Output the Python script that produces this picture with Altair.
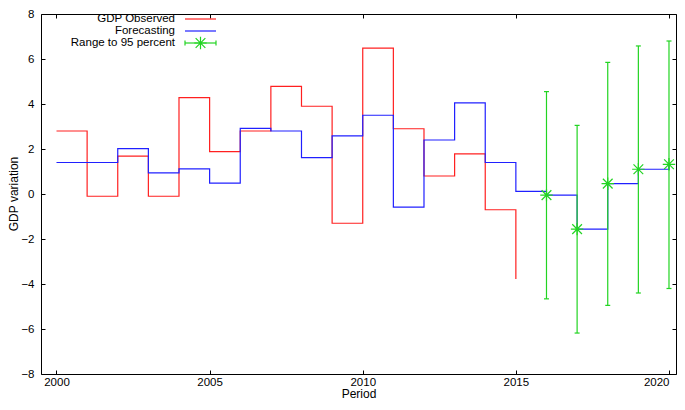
import altair as alt
import pandas as pd

# ---- data ----
obs_years = list(range(2000, 2016))
obs_values = [2.8, -0.1, 1.68, -0.1, 4.28, 1.88, 2.8, 4.78, 3.9, -1.3, 6.48, 2.9, 0.8, 1.78, -0.7, -3.78]

fc_years = list(range(2000, 2021))
fc_values = [1.4, 1.4, 2.02, 0.94, 1.12, 0.48, 2.92, 2.8, 1.62, 2.58, 3.5, -0.58, 2.4, 4.05, 1.4, 0.12,
             -0.05, -1.56, 0.46, 1.1, 1.32]

pred_years = [2016, 2017, 2018, 2019, 2020]
pred_values = [-0.05, -1.56, 0.46, 1.1, 1.32]
pred_low = [-4.66, -6.18, -4.95, -4.4, -4.2]
pred_high = [4.55, 3.05, 5.85, 6.58, 6.8]

x_ticks = [2000, 2005, 2010, 2015, 2020]
y_ticks = [-8, -6, -4, -2, 0, 2, 4, 6, 8]

legend_labels = ["GDP Observed", "Forecasting", "Range to 95 percent"]
x_title = "Period"
y_title = "GDP variation"

RED = "#ff2020"
BLUE = "#2020ff"
GREEN = "#22d422"
FONT = "Liberation Sans"
STAR = "M-1,0L1,0M0,-1L0,1M-0.78,-0.78L0.78,0.78M-0.78,0.78L0.78,-0.78"

W, H = 635, 360

obs_df = pd.DataFrame({"year": obs_years, "value": obs_values})
fc_df = pd.DataFrame({"year": fc_years, "value": fc_values})
pred_df = pd.DataFrame({"year": pred_years, "value": pred_values, "low": pred_low, "high": pred_high})

xscale = alt.Scale(domain=[1999.494, 2020.229], nice=False, zero=False)
yscale = alt.Scale(domain=[-8, 8], nice=False, zero=False)

common_axis = dict(offset=-4, tickSize=4, domain=False, grid=False, tickColor="black",
                   labelColor="black", labelFont=FONT, labelFontSize=11.5,
                   titleFont=FONT, titleFontSize=12, titleFontWeight="normal", titleColor="black")

x_bottom = alt.Axis(orient="bottom", values=x_ticks, format="d", labelPadding=2, labelFlush=10,
                    title=x_title, titlePadding=1, **common_axis)
y_left = alt.Axis(orient="left", values=y_ticks, labelPadding=7, title=None, **common_axis)
x_top = alt.Axis(orient="top", values=x_ticks, labels=False, title=None, **common_axis)
y_right = alt.Axis(orient="right", values=y_ticks, labels=False, title=None, **common_axis)

obs_line = alt.Chart(obs_df).mark_line(interpolate="step-after", color=RED, strokeWidth=1.2).encode(
    x=alt.X("year:Q", scale=xscale, axis=x_bottom),
    y=alt.Y("value:Q", scale=yscale, axis=y_left),
)

fc_line = alt.Chart(fc_df).mark_line(interpolate="step-after", color=BLUE, strokeWidth=1.2).encode(
    x=alt.X("year:Q", scale=xscale, axis=x_top),
    y=alt.Y("value:Q", scale=yscale, axis=y_right),
)

err_rule = alt.Chart(pred_df).mark_rule(color=GREEN, strokeWidth=1.2).encode(
    x=alt.X("year:Q", scale=xscale, axis=None),
    y=alt.Y("low:Q", scale=yscale, axis=None),
    y2="high:Q",
)

cap_low = alt.Chart(pred_df).mark_tick(orient="horizontal", color=GREEN, size=5, thickness=1.2, opacity=1).encode(
    x=alt.X("year:Q", scale=xscale, axis=None),
    y=alt.Y("low:Q", scale=yscale, axis=None),
)
cap_high = alt.Chart(pred_df).mark_tick(orient="horizontal", color=GREEN, size=5, thickness=1.2, opacity=1).encode(
    x=alt.X("year:Q", scale=xscale, axis=None),
    y=alt.Y("high:Q", scale=yscale, axis=None),
)

stars = alt.Chart(pred_df).mark_point(shape=STAR, size=155, filled=False, stroke=GREEN,
                                      strokeWidth=1.2, opacity=1).encode(
    x=alt.X("year:Q", scale=xscale, axis=None),
    y=alt.Y("value:Q", scale=yscale, axis=None),
)

one = alt.Data(values=[{}])

# y-axis title (rotated)
y_title_layer = alt.Chart(one).mark_text(text=y_title, angle=270, align="center", baseline="middle",
                                         font=FONT, fontSize=12, color="black").encode(
    x=alt.value(-27), y=alt.value(H / 2))

# ---- legend (gnuplot style: right-aligned text, sample on the right) ----
leg_layers = []
row_y = [5, 17, 29]
for label, yy in zip(legend_labels, row_y):
    leg_layers.append(
        alt.Chart(one).mark_text(text=label, align="right", baseline="middle", font=FONT,
                                 fontSize=11.5, color="black").encode(
            x=alt.value(134), y=alt.value(yy))
    )
leg_layers.append(alt.Chart(one).mark_rule(color=RED, strokeWidth=1.2).encode(
    x=alt.value(144), x2=alt.value(175), y=alt.value(row_y[0])))
leg_layers.append(alt.Chart(one).mark_rule(color=BLUE, strokeWidth=1.2).encode(
    x=alt.value(144), x2=alt.value(175), y=alt.value(row_y[1])))
leg_layers.append(alt.Chart(one).mark_rule(color=GREEN, strokeWidth=1.2).encode(
    x=alt.value(144), x2=alt.value(175), y=alt.value(row_y[2])))
for cx in (144, 175):
    leg_layers.append(alt.Chart(one).mark_rule(color=GREEN, strokeWidth=1.2).encode(
        x=alt.value(cx), y=alt.value(row_y[2] - 2.5), y2=alt.value(row_y[2] + 2.5)))
leg_layers.append(alt.Chart(one).mark_point(shape=STAR, size=155, filled=False, stroke=GREEN,
                                            strokeWidth=1.2, opacity=1).encode(
    x=alt.value(159.5), y=alt.value(row_y[2])))

chart = alt.layer(obs_line, fc_line, err_rule, cap_low, cap_high, stars, y_title_layer,
                  *leg_layers).properties(
    width=W,
    height=H,
    autosize=alt.AutoSizeParams(type="none"),
    padding={"left": 33, "top": 6, "right": 1, "bottom": 26},
    background="white",
).configure_view(stroke="black", strokeWidth=1)

chart.save("out.html", embed_options={"renderer": "svg", "actions": False})
